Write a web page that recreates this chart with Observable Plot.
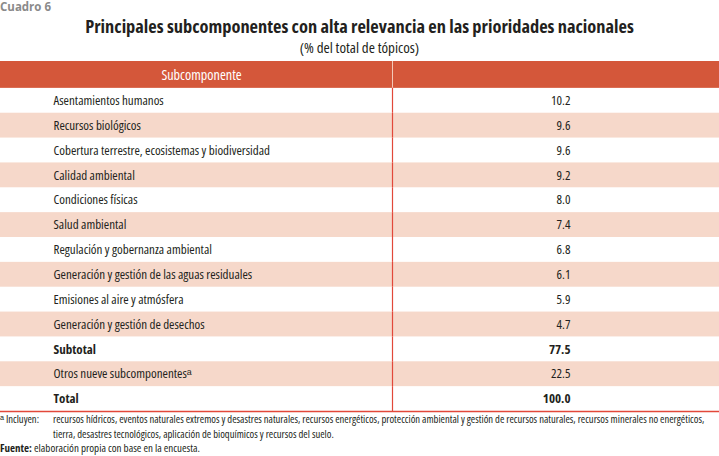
<!DOCTYPE html>
<html>
<head>
<meta charset="utf-8">
<script src="https://cdn.jsdelivr.net/npm/d3@7"></script>
<script src="https://cdn.jsdelivr.net/npm/@observablehq/plot@0.6"></script>
<style>
  html, body { margin: 0; padding: 0; background: #fff; }
  #root { position: relative; width: 719px; height: 456px; overflow: hidden;
    font-family: "Open Sans", sans-serif; font-stretch: 75%; color: #231f20; }
  .abs { position: absolute; }
  #cuadro { left: 0; top: -1px; font-size: 11.5px; font-weight: bold; color: #8a8a8a; font-stretch: 100%; }
  #title { left: 0; width: 719px; top: 13px; text-align: center; font-size: 18.4px; font-weight: bold; }
  #subtitle { left: 0; width: 719px; top: 37px; text-align: center; font-size: 15px; font-stretch: 80%; }
  #chart { left: 0; top: 61px; }
  #chart svg { display: block; }
  #notes { left: 0; top: 412px; font-size: 10.6px; line-height: 14.5px; width: 719px; }
  #fuente { font-size: 11px; }
  .row { display: flex; }
  .lab { width: 53px; flex: none; }
  .txt { white-space: nowrap; }
</style>
</head>
<body>
<div id="root">
  <div id="cuadro" class="abs">Cuadro 6</div>
  <div id="title" class="abs">Principales subcomponentes con alta relevancia en las prioridades nacionales</div>
  <div id="subtitle" class="abs">(% del total de tópicos)</div>
  <div id="chart" class="abs"></div>
  <div id="notes" class="abs">
    <div class="row"><div class="lab">ᵃ Incluyen:</div><div class="txt">recursos hídricos, eventos naturales extremos y desastres naturales, recursos energéticos, protección ambiental y gestión de recursos naturales, recursos minerales no energéticos,<br>tierra, desastres tecnológicos, aplicación de bioquímicos y recursos del suelo.</div></div>
    <div id="fuente"><b>Fuente:</b> elaboración propia con base en la encuesta.</div>
  </div>
</div>
<script>
const headerLabel = "Subcomponente";
const subcomponents = [
  "Asentamientos humanos",
  "Recursos biológicos",
  "Cobertura terrestre, ecosistemas y biodiversidad",
  "Calidad ambiental",
  "Condiciones físicas",
  "Salud ambiental",
  "Regulación y gobernanza ambiental",
  "Generación y gestión de las aguas residuales",
  "Emisiones al aire y atmósfera",
  "Generación y gestión de desechos",
  "Subtotal",
  "Otros nueve subcomponentesᵃ",
  "Total"
];
const percentages = [10.2, 9.6, 9.6, 9.2, 8.0, 7.4, 6.8, 6.1, 5.9, 4.7, 77.5, 22.5, 100.0];
const boldRows = ["Subtotal", "Total"];

const rows = subcomponents.map((name, i) => ({
  name, value: percentages[i], shaded: i % 2 === 1, bold: boldRows.includes(name)
}));

const W = 719, DIVIDER = 392, LABEL_X = 53, VALUE_X = 570, HEADER_X = 201;
const RED = "#e2483a", HEAD = "#d4573a", SHADE = "#f6d8ca";
const FS = 13;

const chart = Plot.plot({
  width: W, height: 352,
  marginTop: 2, marginLeft: 0, marginRight: 0, marginBottom: 2,
  x: {type: "linear", domain: [0, W], range: [0, W], axis: null},
  y: {type: "band", domain: [headerLabel, ...subcomponents], padding: 0, round: false, axis: null},
  style: {fontFamily: "'Open Sans', sans-serif", fontStretch: "75%", fontSize: "12px", color: "#231f20", overflow: "visible"},
  marks: [
    Plot.cell([headerLabel], {y: d => d, fill: HEAD, insetTop: -2}),
    Plot.cell(rows.filter(d => d.shaded), {y: "name", fill: SHADE}),
    Plot.tickX([headerLabel], {x: () => DIVIDER, y: d => d, stroke: "#f3c9b8", strokeWidth: 1, insetTop: -2}),
    Plot.tickX(rows, {x: () => DIVIDER, y: "name", stroke: RED, strokeWidth: 1.2}),
    Plot.text([headerLabel], {x: () => HEADER_X, y: d => d, text: d => d, fill: "white", fontSize: 14.2}),
    Plot.text(rows.filter(d => !d.bold), {x: () => LABEL_X, y: "name", text: "name", textAnchor: "start", fill: "#231f20", fontSize: FS}),
    Plot.text(rows.filter(d => d.bold), {x: () => LABEL_X, y: "name", text: "name", textAnchor: "start", fill: "#231f20", fontSize: FS, fontWeight: "bold"}),
    Plot.text(rows.filter(d => !d.bold), {x: () => VALUE_X, y: "name", text: d => d.value.toFixed(1), textAnchor: "end", fill: "#231f20", fontSize: FS}),
    Plot.text(rows.filter(d => d.bold), {x: () => VALUE_X, y: "name", text: d => d.value.toFixed(1), textAnchor: "end", fill: "#231f20", fontSize: FS, fontWeight: "bold"}),
    Plot.frame({anchor: "bottom", stroke: RED, strokeWidth: 1.5})
  ]
});
document.getElementById("chart").appendChild(chart);
</script>
</body>
</html>
